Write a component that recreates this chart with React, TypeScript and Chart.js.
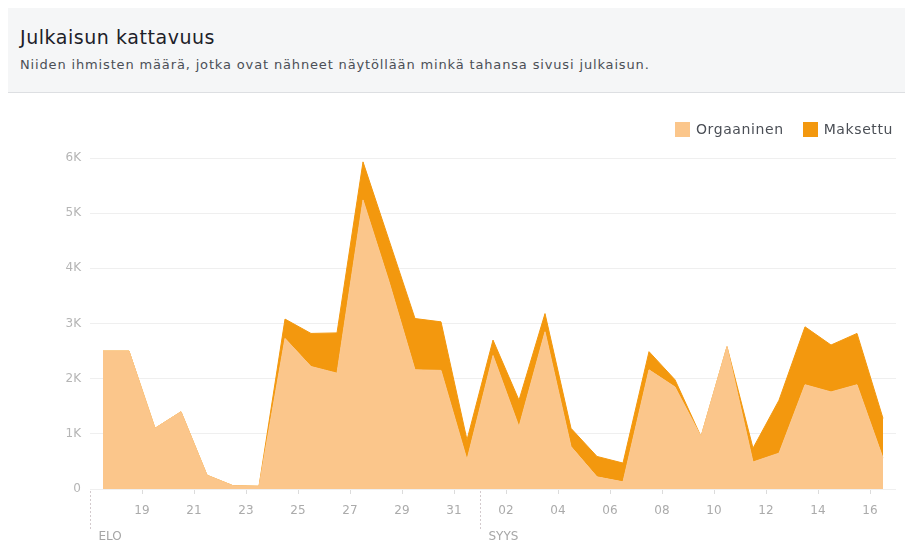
import React, { useEffect, useRef } from 'react';
import { Chart, registerables } from 'chart.js';

Chart.register(...registerables);

// Days shown (Aug 17 – Sep 16), one point per day
const dayLabels = ['17', '18', '19', '20', '21', '22', '23', '24', '25', '26', '27', '28', '29', '30', '31',
  '01', '02', '03', '04', '05', '06', '07', '08', '09', '10', '11', '12', '13', '14', '15', '16'];
const organic = [2500, 2500, 1100, 1400, 250, 60, 50, 2730, 2220, 2100, 5240, 3760, 2160, 2150, 530,
  2420, 1130, 2850, 770, 220, 130, 2160, 1850, 950, 2580, 490, 650, 1890, 1760, 1890, 560];
const paid = [0, 0, 0, 0, 0, 0, 0, 350, 600, 730, 690, 750, 930, 880, 360,
  280, 480, 330, 330, 370, 340, 330, 130, 0, 0, 250, 960, 1050, 850, 930, 720];

const xTickLabels = ['19', '21', '23', '25', '27', '29', '31', '02', '04', '06', '08', '10', '12', '14', '16'];
const yTickLabels = ['0', '1K', '2K', '3K', '4K', '5K', '6K'];
const monthLabels = ['ELO', 'SYYS'];
const monthStarts = [0, 15];
const seriesNames = ['Orgaaninen', 'Maksettu'];

const LIGHT = '#fbc68b';
const DARK = '#f3980e';
const FONT = "'DejaVu Sans', sans-serif";

const monthPlugin = {
  id: 'monthMarkers',
  afterDraw(chart: any) {
    const { ctx, chartArea } = chart;
    const xs = chart.scales.x;
    ctx.save();
    monthStarts.forEach((m, i) => {
      const px = Math.round(xs.getPixelForValue(m)) + 0.5;
      ctx.strokeStyle = '#d3cacd';
      ctx.lineWidth = 1;
      ctx.setLineDash([2, 2]);
      ctx.beginPath();
      ctx.moveTo(px, chartArea.bottom + 2);
      ctx.lineTo(px, chartArea.bottom + 42);
      ctx.stroke();
      ctx.setLineDash([]);
      ctx.fillStyle = '#a6a6a6';
      ctx.font = `12px ${FONT}`;
      ctx.textAlign = 'left';
      ctx.textBaseline = 'middle';
      ctx.fillText(monthLabels[i], px + 8, chartArea.bottom + 48);
    });
    ctx.restore();
  },
};

export default function App() {
  const ref = useRef<HTMLCanvasElement>(null);

  useEffect(() => {
    if (!ref.current) return;
    const chart = new Chart(ref.current, {
      type: 'line',
      data: {
        datasets: [
          {
            label: seriesNames[0],
            data: organic.map((v, i) => ({ x: i + 0.5, y: v })),
            backgroundColor: LIGHT,
            borderColor: LIGHT,
            borderWidth: 1,
            fill: 'origin',
            pointRadius: 0,
            tension: 0,
          },
          {
            label: seriesNames[1],
            data: paid.map((v, i) => ({ x: i + 0.5, y: v })),
            backgroundColor: DARK,
            borderColor: DARK,
            borderWidth: 1,
            fill: '-1',
            pointRadius: 0,
            tension: 0,
          },
        ],
      },
      options: {
        animation: false,
        responsive: true,
        maintainAspectRatio: false,
        layout: { padding: { left: 0, right: 17, top: 65, bottom: 0 } },
        plugins: {
          legend: { display: false },
          tooltip: { enabled: false },
        },
        scales: {
          x: {
            type: 'linear',
            min: 0,
            max: dayLabels.length,
            border: { display: false },
            grid: {
              drawOnChartArea: false,
              drawTicks: true,
              tickLength: 5,
              color: (c: any) => (c.tick && c.tick.value === 0 ? 'rgba(0,0,0,0)' : '#dcdcdc'),
            },
            ticks: {
              stepSize: 2,
              includeBounds: false,
              autoSkip: false,
              maxRotation: 0,
              padding: 10,
              color: '#ababab',
              font: { family: FONT, size: 12 },
              callback: (v: any) => (v === 0 ? '' : xTickLabels[v / 2 - 1] ?? ''),
            },
            afterFit: (s: any) => { s.height = 59; },
          },
          y: {
            stacked: true,
            min: 0,
            max: 6000,
            border: { display: false },
            grid: { color: '#efefef', drawTicks: false },
            ticks: {
              stepSize: 1000,
              padding: 9,
              color: '#b5b5b5',
              font: { family: FONT, size: 12 },
              callback: (v: any) => yTickLabels[Math.round(v / 1000)] ?? '',
            },
            afterFit: (s: any) => { s.width = 82; },
          },
        },
      },
      plugins: [monthPlugin],
    });
    return () => chart.destroy();
  }, []);

  return (
    <div style={{ fontFamily: FONT, width: 905 }}>
      <div
        style={{
          position: 'relative',
          height: 84,
          background: '#f5f6f7',
          borderBottom: '1px solid #dddfe2',
        }}
      >
        <div style={{ position: 'absolute', left: 12, top: 19, fontSize: 19, lineHeight: '20px', letterSpacing: '0.55px', color: '#1d2129', whiteSpace: 'nowrap' }}>
          Julkaisun kattavuus
        </div>
        <div style={{ position: 'absolute', left: 12, top: 49, fontSize: 13, lineHeight: '16px', letterSpacing: '0.85px', color: '#4b4f56', whiteSpace: 'nowrap' }}>
          Niiden ihmisten määrä, jotka ovat nähneet näytöllään minkä tahansa sivusi julkaisun.
        </div>
      </div>
      <div style={{ position: 'relative', height: 455, width: 905 }}>
        <canvas ref={ref} />
        <div
          style={{
            position: 'absolute',
            top: 29,
            right: 20,
            display: 'flex',
            alignItems: 'center',
            fontSize: 14,
            lineHeight: '15px',
            letterSpacing: '0.6px',
            color: '#4b4f56',
            whiteSpace: 'nowrap',
          }}
        >
          <span style={{ width: 15, height: 15, background: LIGHT, display: 'inline-block', marginRight: 6 }} />
          <span style={{ marginRight: 19 }}>{seriesNames[0]}</span>
          <span style={{ width: 15, height: 15, background: DARK, display: 'inline-block', marginRight: 6 }} />
          <span>{seriesNames[1]}</span>
        </div>
      </div>
    </div>
  );
}
